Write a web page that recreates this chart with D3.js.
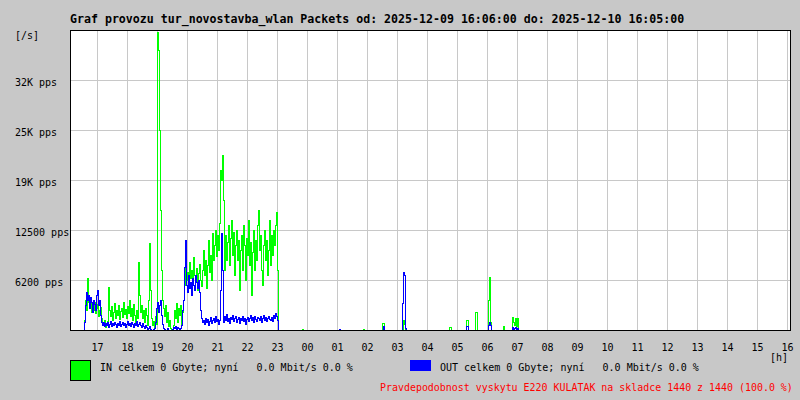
<!DOCTYPE html>
<html>
<head>
<meta charset="utf-8">
<script src="https://cdn.jsdelivr.net/npm/d3@7/dist/d3.min.js"></script>
<style>
  html, body { margin: 0; padding: 0; background: #c8c8c8; }
  svg { display: block; }
  text { font-family: "DejaVu Sans Mono", monospace; white-space: pre; }
</style>
</head>
<body>
<script>
// one sample every 2 minutes, starting 2025-12-09 16:06
const startTime = new Date(2025, 11, 9, 16, 6);
const stepMinutes = 2;
const sampleCount = 720;

// IN packets/s, 16:06 .. 23:02
const inActive = [
  0,0,0,0,0,0,0,0,0,0,0,0,0,0,
  1250,3750,2500,6500,3500,2750,3750,2250,3125,2500,3500,2125,2750,3250,1750,2500,
  2875,1500,1000,625,1250,375,750,1125,5375,2500,1750,3000,1250,2250,3375,1500,
  2500,1875,3125,1375,2375,2750,1625,3500,2000,2625,1500,3000,2125,3750,1750,2750,
  1250,3250,1875,1000,2500,1500,8500,4375,2250,3125,1500,2500,1000,2750,1875,625,
  3750,10875,5000,1500,625,1125,375,1750,750,37250,35000,25000,15000,7500,3750,2750,
  1750,3125,1000,2250,500,1250,250,0,0,625,2500,1500,3375,1000,2750,1875,
  3125,750,2250,3750,5625,7750,6250,7250,5500,8500,6500,7500,5625,9125,6875,6000,
  7750,5000,7125,8250,6250,5500,7500,10000,6875,8750,5250,8125,11250,7250,9375,6250,
  12125,8750,10625,12500,9250,11875,10000,13375,20000,18750,21875,16250,7500,11875,8750,11000,
  13125,8125,11500,13750,9375,12250,6875,10625,12500,8750,11250,5000,10000,11875,7500,13125,
  10625,6250,11500,9375,13750,8125,11000,4375,9750,12500,7500,11250,8750,13125,15000,10000,
  11875,7500,5625,10625,12500,8750,11250,6875,10000,13750,8125,11875,9375,12500,10625,13125,
  14750,7500,0
];

// OUT packets/s, 16:06 .. 23:02
const outActive = [
  0,0,0,0,0,0,0,0,0,0,0,0,0,0,
  1000,3125,4750,3750,4375,2750,4125,3500,2250,3750,3250,2500,4375,5000,3125,3750,
  1875,1000,625,1000,500,875,625,1000,375,750,1125,500,875,625,1000,750,
  375,875,625,1125,500,750,1000,625,875,375,750,1125,625,875,500,1000,
  750,375,875,625,1125,500,750,1000,625,375,875,500,250,625,375,125,
  250,500,125,0,0,125,250,1000,2750,3500,2250,3125,3750,1875,750,250,
  125,0,0,250,0,0,0,0,125,375,250,500,125,375,250,125,
  250,625,2500,3750,7875,11250,5625,4750,6875,5250,6000,4375,6500,5625,5000,6875,
  6000,5250,6250,4750,2500,1500,1000,1250,750,1500,1000,1375,625,1125,1625,875,
  1250,1500,1000,1750,1125,1375,750,1250,5000,12125,7500,1000,1750,1250,2000,1125,
  1500,875,1625,1375,1875,1125,1500,1750,1000,1375,1625,875,1500,1250,1750,1125,
  1500,750,1375,1625,1125,1500,1875,1250,1625,1000,1750,1375,1125,1625,1500,1250,
  1750,1000,1500,1875,1250,1625,1125,1500,1750,1375,1250,1625,1125,1875,1500,2125,
  1750,1250,0
];

// isolated blips after 23:00 (sample index, IN, OUT)
const spikeIndex = [232, 269, 293, 312, 313, 332, 333, 334, 335, 379, 380, 396, 397, 405, 406, 418, 419, 420, 433, 442, 443, 444, 445, 446, 447];
const spikeIn    = [125, 0, 125, 875, 875, 0, 1250, 750, 0, 375, 375, 1250, 1250, 2250, 2250, 3750, 6625, 1000, 500, 1625, 1000, 625, 1500, 500, 1500];
const spikeOut   = [0, 125, 0, 0, 500, 3375, 7250, 6875, 250, 0, 0, 500, 500, 0, 0, 625, 1000, 625, 0, 375, 0, 250, 375, 0, 250];

const yTicks = [6250, 12500, 18750, 25000, 31250];
const yTickLabels = ["6200 pps", "12500 pps", "19K pps", "25K pps", "32K pps"];

const titleText = "Graf provozu tur_novostavba_wlan Packets od: 2025-12-09 16:06:00 do: 2025-12-10 16:05:00";
const inLegend = "IN celkem 0 Gbyte; nyní   0.0 Mbit/s 0.0 %";
const outLegend = "OUT celkem 0 Gbyte; nyní   0.0 Mbit/s 0.0 %";
const footerText = "Pravdepodobnost vyskytu E220 KULATAK na skladce 1440 z 1440 (100.0 %)";

(function(){
  // build the full 24h table
  const samples = d3.range(sampleCount).map(i => ({
    t: new Date(startTime.getTime() + i * stepMinutes * 60000),
    in: inActive[i] || 0,
    out: outActive[i] || 0
  }));
  spikeIndex.forEach((idx, k) => {
    samples[idx].in = spikeIn[k];
    samples[idx].out = spikeOut[k];
  });

  const width = 800, height = 400;
  const m = {left: 70, right: 790, top: 30, bottom: 330};

  const x = d3.scaleTime()
    .domain([startTime, new Date(startTime.getTime() + sampleCount * stepMinutes * 60000)])
    .range([m.left, m.right]);
  const y = d3.scaleLinear().domain([0, 37500]).range([m.bottom, m.top]);

  const svg = d3.select("body").append("svg")
    .attr("width", width)
    .attr("height", height);

  svg.append("rect")
    .attr("width", width).attr("height", height)
    .attr("fill", "#c8c8c8");

  svg.append("rect")
    .attr("x", m.left).attr("y", m.top)
    .attr("width", m.right - m.left).attr("height", m.bottom - m.top)
    .attr("fill", "#fff");

  // grid
  const hours = x.ticks(d3.timeHour.every(1));
  const grid = svg.append("g")
    .attr("stroke", "#c8c8c8")
    .attr("shape-rendering", "crispEdges");
  grid.selectAll("line.v")
    .data(hours)
    .join("line")
      .attr("class", "v")
      .attr("x1", d => Math.round(x(d)) + 0.5).attr("x2", d => Math.round(x(d)) + 0.5)
      .attr("y1", m.top).attr("y2", m.bottom);
  grid.selectAll("line.h")
    .data(yTicks)
    .join("line")
      .attr("class", "h")
      .attr("x1", m.left).attr("x2", m.right)
      .attr("y1", d => y(d) + 0.5).attr("y2", d => y(d) + 0.5);

  // traffic lines
  const line = key => d3.line()
    .x(d => x(d.t))
    .y(d => y(d[key]))
    .curve(d3.curveStepAfter);

  const plot = svg.append("g")
    .attr("transform", "translate(0.5,0.5)")
    .attr("fill", "none")
    .attr("stroke-width", 1)
    .attr("shape-rendering", "crispEdges");
  plot.append("path").attr("stroke", "#00ff00").attr("d", line("in")(samples));
  plot.append("path").attr("stroke", "#0000ff").attr("d", line("out")(samples));

  // frame
  svg.append("rect")
    .attr("x", m.left + 0.5).attr("y", m.top + 0.5)
    .attr("width", m.right - m.left).attr("height", m.bottom - m.top)
    .attr("fill", "none")
    .attr("stroke", "#000")
    .attr("shape-rendering", "crispEdges");

  // y labels
  svg.append("g")
    .attr("font-size", 10)
    .selectAll("text")
    .data(yTicks)
    .join("text")
      .attr("x", 15)
      .attr("y", d => y(d) + 6)
      .text((d, i) => yTickLabels[i]);

  svg.append("text").attr("x", 15).attr("y", 39).attr("font-size", 10).text("[/s]");

  // x labels
  svg.append("g")
    .attr("font-size", 10)
    .attr("text-anchor", "middle")
    .selectAll("text")
    .data(hours)
    .join("text")
      .attr("x", d => x(d) + 0.5)
      .attr("y", 351)
      .text(d3.timeFormat("%H"));

  svg.append("text").attr("x", 770).attr("y", 360.5).attr("font-size", 10).text("[h]");

  // title
  svg.append("text")
    .attr("x", 70).attr("y", 23)
    .attr("font-size", 11.6)
    .attr("font-weight", "bold")
    .text(titleText);

  // legend
  svg.append("rect")
    .attr("x", 70.5).attr("y", 360.5).attr("width", 20).attr("height", 20)
    .attr("fill", "#00ff00").attr("stroke", "#000")
    .attr("shape-rendering", "crispEdges");
  svg.append("text").attr("x", 100).attr("y", 371).attr("font-size", 10).text(inLegend);

  svg.append("rect")
    .attr("x", 410).attr("y", 360).attr("width", 21).attr("height", 11)
    .attr("fill", "#0000ff")
    .attr("shape-rendering", "crispEdges");
  svg.append("text").attr("x", 440).attr("y", 371).attr("font-size", 10).text(outLegend);

  svg.append("text")
    .attr("x", 380).attr("y", 391)
    .attr("font-size", 9.95)
    .attr("fill", "#ff0000")
    .text(footerText);
})();
</script>
</body>
</html>
